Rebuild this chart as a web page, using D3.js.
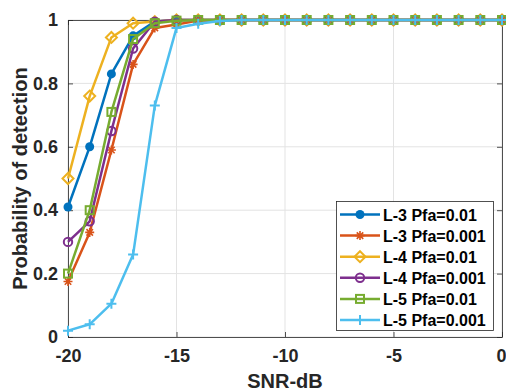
<!DOCTYPE html>
<html>
<head>
<meta charset="utf-8">
<script src="https://cdn.jsdelivr.net/npm/d3@7"></script>
<style>
  html, body { margin: 0; padding: 0; background: #fff; }
  svg { display: block; font-family: "Liberation Sans", Arial, Helvetica, sans-serif; }
</style>
</head>
<body>
<svg id="chart" width="506" height="392"></svg>
<script>
// SNR sweep (dB) and detection probability for each configuration
const snr = d3.range(-20, 1);
const l3Pfa01  = [0.41, 0.60, 0.83, 0.95, 0.995, 1, 1, 1, 1, 1, 1, 1, 1, 1, 1, 1, 1, 1, 1, 1, 1];
const l3Pfa001 = [0.175, 0.33, 0.59, 0.86, 0.975, 0.986, 0.998, 1, 1, 1, 1, 1, 1, 1, 1, 1, 1, 1, 1, 1, 1];
const l4Pfa01  = [0.50, 0.76, 0.945, 0.99, 0.995, 1, 1, 1, 1, 1, 1, 1, 1, 1, 1, 1, 1, 1, 1, 1, 1];
const l4Pfa001 = [0.30, 0.365, 0.65, 0.91, 0.995, 1, 1, 1, 1, 1, 1, 1, 1, 1, 1, 1, 1, 1, 1, 1, 1];
const l5Pfa01  = [0.20, 0.40, 0.71, 0.94, 0.99, 0.998, 1, 1, 1, 1, 1, 1, 1, 1, 1, 1, 1, 1, 1, 1, 1];
const l5Pfa001 = [0.02, 0.04, 0.105, 0.26, 0.73, 0.975, 0.988, 0.997, 1, 1, 1, 1, 1, 1, 1, 1, 1, 1, 1, 1, 1];

const seriesNames = ["L-3 Pfa=0.01", "L-3 Pfa=0.001", "L-4 Pfa=0.01", "L-4 Pfa=0.001", "L-5 Pfa=0.01", "L-5 Pfa=0.001"];
const seriesValues = [l3Pfa01, l3Pfa001, l4Pfa01, l4Pfa001, l5Pfa01, l5Pfa001];
const xTicks = [-20, -15, -10, -5, 0];
const yTicks = [0, 0.2, 0.4, 0.6, 0.8, 1];

const colors = ["#0072BD", "#D95319", "#EDB120", "#7E2F8E", "#77AC30", "#4DBEEE"];
const markers = ["dot", "star", "diamond", "circle", "square", "plus"];

const svg = d3.select("#chart");
const plotL = 68, plotR = 502, plotT = 20, plotB = 337;

const x = d3.scaleLinear().domain([-20, 0]).range([plotL, plotR]);
const y = d3.scaleLinear().domain([0, 1]).range([plotB, plotT]);

// grid
const grid = svg.append("g");
grid.selectAll(".gx").data(xTicks).join("line")
  .attr("x1", d => x(d)).attr("x2", d => x(d))
  .attr("y1", plotT).attr("y2", plotB)
  .attr("stroke", "#e3e3e3").attr("stroke-width", 1);
grid.selectAll(".gy").data(yTicks).join("line")
  .attr("x1", plotL).attr("x2", plotR)
  .attr("y1", d => y(d)).attr("y2", d => y(d))
  .attr("stroke", "#e3e3e3").attr("stroke-width", 1);

// axes (ticks pointing inward, box on)
const axisColor = "#262626";
const tickFont = "bold 18px 'Liberation Sans', Arial, sans-serif";

const gx = svg.append("g").attr("transform", `translate(0,${plotB})`)
  .call(d3.axisBottom(x).tickValues(xTicks).tickSizeInner(-5).tickSizeOuter(0).tickPadding(12).tickFormat(d => String(d)));
const gxTop = svg.append("g").attr("transform", `translate(0,${plotT})`)
  .call(d3.axisTop(x).tickValues(xTicks).tickSizeInner(-5).tickSizeOuter(0).tickFormat(""));
const gy = svg.append("g").attr("transform", `translate(${plotL},0)`)
  .call(d3.axisLeft(y).tickValues(yTicks).tickSizeInner(-5).tickSizeOuter(0).tickPadding(10).tickFormat(d => String(d)));
const gyRight = svg.append("g").attr("transform", `translate(${plotR},0)`)
  .call(d3.axisRight(y).tickValues(yTicks).tickSizeInner(-5).tickSizeOuter(0).tickFormat(""));

[gx, gxTop, gy, gyRight].forEach(g => {
  g.select(".domain").attr("stroke", axisColor).attr("stroke-width", 0.8);
  g.selectAll(".tick line").attr("stroke", axisColor).attr("stroke-width", 0.8);
  g.selectAll("text").style("font", tickFont).attr("fill", "#262626");
});
// keep the last x label inside the page
gx.selectAll(".tick text").filter(d => d === 0).attr("dx", -1);

// axis labels
svg.append("text")
  .attr("x", (plotL + plotR) / 2).attr("y", 388)
  .attr("text-anchor", "middle")
  .style("font", "bold 20px 'Liberation Sans', Arial, sans-serif")
  .attr("fill", "#262626")
  .text("SNR-dB");
svg.append("text")
  .attr("transform", `translate(27,${(plotT + plotB) / 2}) rotate(-90)`)
  .attr("text-anchor", "middle")
  .style("font", "bold 20px 'Liberation Sans', Arial, sans-serif")
  .attr("fill", "#262626")
  .text("Probability of detection");

// marker drawing
function drawMarker(g, kind, color, cx, cy) {
  const sw = 2;
  if (kind === "dot") {
    g.append("circle").attr("cx", cx).attr("cy", cy).attr("r", 4.5).attr("fill", color);
  } else if (kind === "circle") {
    g.append("circle").attr("cx", cx).attr("cy", cy).attr("r", 4.2)
      .attr("fill", "none").attr("stroke", color).attr("stroke-width", sw);
  } else if (kind === "square") {
    g.append("rect").attr("x", cx - 4).attr("y", cy - 4).attr("width", 8).attr("height", 8)
      .attr("fill", "none").attr("stroke", color).attr("stroke-width", sw);
  } else if (kind === "diamond") {
    const r = 5.5;
    g.append("path").attr("d", `M${cx},${cy - r}L${cx + r},${cy}L${cx},${cy + r}L${cx - r},${cy}Z`)
      .attr("fill", "none").attr("stroke", color).attr("stroke-width", sw);
  } else if (kind === "plus") {
    const r = 5;
    g.append("path").attr("d", `M${cx - r},${cy}H${cx + r}M${cx},${cy - r}V${cy + r}`)
      .attr("stroke", color).attr("stroke-width", sw);
  } else if (kind === "star") {
    const r = 4.5, d = r * 0.72;
    g.append("path").attr("d",
      `M${cx - r},${cy}H${cx + r}M${cx},${cy - r}V${cy + r}M${cx - d},${cy - d}L${cx + d},${cy + d}M${cx - d},${cy + d}L${cx + d},${cy - d}`)
      .attr("stroke", color).attr("stroke-width", 1.6);
  }
}

// series
const line = d3.line().x(d => x(d[0])).y(d => y(d[1]));
seriesValues.forEach((vals, i) => {
  const pts = snr.map((s, j) => [s, vals[j]]);
  const g = svg.append("g");
  g.append("path").datum(pts).attr("d", line)
    .attr("fill", "none").attr("stroke", colors[i]).attr("stroke-width", 2.5)
    .attr("stroke-linejoin", "round");
  pts.forEach(p => drawMarker(g, markers[i], colors[i], x(p[0]), y(p[1])));
});

// legend
const lg = svg.append("g");
lg.append("rect").attr("x", 336.5).attr("y", 201.5).attr("width", 157).attr("height", 129)
  .attr("fill", "#fff").attr("stroke", "#262626").attr("stroke-width", 0.8);
seriesNames.forEach((name, i) => {
  const cy = 214.5 + i * 21.1;
  lg.append("line").attr("x1", 340).attr("x2", 380).attr("y1", cy).attr("y2", cy)
    .attr("stroke", colors[i]).attr("stroke-width", 2.5);
  drawMarker(lg, markers[i], colors[i], 360, cy);
  lg.append("text").attr("x", 383).attr("y", cy + 6)
    .style("font", "bold 16px 'Liberation Sans', Arial, sans-serif")
    .attr("fill", "#000")
    .text(name);
});
</script>
</body>
</html>
